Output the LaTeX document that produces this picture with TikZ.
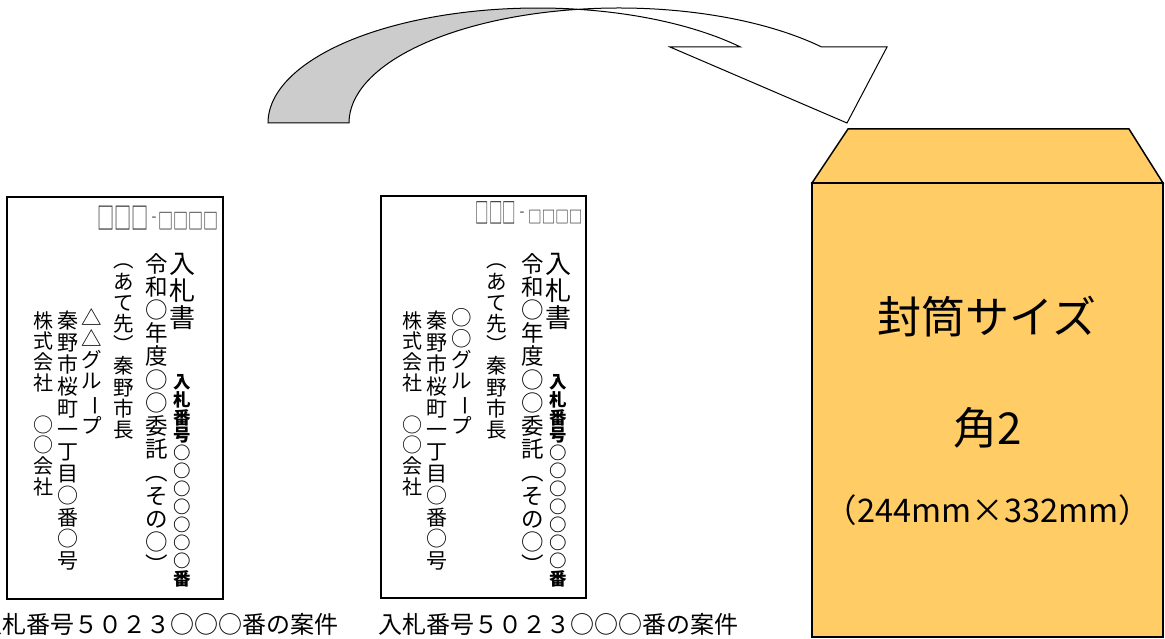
\documentclass[tikz,border=0pt]{standalone}
\usepackage{graphicx}
\usepackage{fontspec}
\newfontfamily\jp{Noto Sans CJK JP}
\definecolor{envfill}{HTML}{FFCC66}
\definecolor{bandgray}{HTML}{CCCCCC}
% long vowel mark turned upright for vertical columns
\newcommand\tatebar{\rotatebox[origin=c]{-90}{ー}}

\begin{document}
\begin{tikzpicture}[x=1pt, y=-1pt,
  card/.style={draw, line width=1.8pt},
  tate/.style args={#1/#2}{anchor=north, inner sep=0pt, align=center,
    font=\jp\fontsize{#1}{#2}\selectfont},
  tateb/.style args={#1/#2}{tate=#1/#2,
    font=\jp\bfseries\fontsize{#1}{#2}\selectfont},
  zip/.style={inner sep=0pt, text=black!85, font=\jp\fontsize{#1}{#1}\selectfont},
  caption/.style={anchor=west, inner sep=0pt, font=\jp\fontsize{24}{24}\selectfont},
  envtext/.style={inner sep=0pt, font=\jp\fontsize{#1}{#1}\selectfont}]

\useasboundingbox (0,0) rectangle (1165,639);
\clip (0,0) rectangle (1165,639);

% curved arrow
\filldraw[fill=bandgray, line width=1pt] (268,123)
  arc[start angle=-180, end angle=-81.37, x radius=270, y radius=115]
  arc[start angle=-98.63, end angle=-180, x radius=270, y radius=115] -- cycle;
\filldraw[fill=white, line width=1pt] (578.5,9.3)
  arc[start angle=-98.63, end angle=-41.4, x radius=270, y radius=115]
  -- (887,47) -- (847,123) -- (670,47) -- (740.5,47)
  arc[start angle=-41.4, end angle=-81.37, x radius=270, y radius=115] -- cycle;

% left card
\draw[card] (7,197) rectangle (223,599);
\node[zip=30, xscale=0.57, anchor=east] (lzipa) at (149,218) {□□□};
\node[zip=14] (lzipd) at (154,219) {-};
\node[zip=22, xscale=0.68, anchor=west] (lzipb) at (158,221) {□□□□};

\node[tate=26/27]      (ltitle) at (182,253) {入\\札\\書};
\node[tateb=17.5/17.9] (lcol1)  at (182,374) {入\\札\\番\\号\\○\\○\\○\\○\\○\\○\\○\\番};
\node[tate=22.5/23.2]  (lcol2)  at (157,253) {令\\和\\○\\年\\度\\○\\○\\委\\託\\︵\\そ\\の\\○\\︶};
\node[tate=20.5/21.2]  (lcol3)  at (124,264) {︵\\あ\\て\\先\\︶\\秦\\野\\市\\長};
\node[tate=20.5/21.2]  (lcol4)  at (92,308)  {△\\△\\グ\\ル\\\tatebar\\プ};
\node[tate=21/21.8]    (lcol5)  at (68,311)  {秦\\野\\市\\桜\\町\\一\\丁\\目\\○\\番\\○\\号};
\node[tate=20/20.8]    (lcol6)  at (43,311)  {株\\式\\会\\社\\　\\○\\○\\会\\社};

% middle card
\draw[card] (381,196) rectangle (586,598);
\node[zip=28, xscale=0.48, anchor=east] (mzipa) at (516,213) {□□□};
\node[zip=14] (mzipd) at (522,214) {-};
\node[zip=17, xscale=0.8, anchor=west] (mzipb) at (528,217.5) {□□□□};

\node[tate=26/27]      (mtitle) at (558,253) {入\\札\\書};
\node[tateb=17.5/17.9] (mcol1)  at (558,374) {入\\札\\番\\号\\○\\○\\○\\○\\○\\○\\○\\番};
\node[tate=22.5/23.2]  (mcol2)  at (533,253) {令\\和\\○\\年\\度\\○\\○\\委\\託\\︵\\そ\\の\\○\\︶};
\node[tate=20.5/21.2]  (mcol3)  at (497,264) {︵\\あ\\て\\先\\︶\\秦\\野\\市\\長};
\node[tate=20.5/21.2]  (mcol4)  at (462,308) {○\\○\\グ\\ル\\\tatebar\\プ};
\node[tate=21/21.8]    (mcol5)  at (437,311) {秦\\野\\市\\桜\\町\\一\\丁\\目\\○\\番\\○\\号};
\node[tate=20/20.8]    (mcol6)  at (412,311) {株\\式\\会\\社\\　\\○\\○\\会\\社};

% captions
\node[caption] (lcap) at (-22,624) {入札番号５０２３○○○番の案件};
\node[caption] (mcap) at (378,624) {入札番号５０２３○○○番の案件};

% envelope
\filldraw[fill=envfill, line width=1.5pt] (812,183) -- (848,129) -- (1129,129) -- (1163,183) -- cycle;
\filldraw[fill=envfill, line width=1.5pt] (812,183) rectangle (1163,637);
\node[envtext=44] (size) at (987,317) {封筒サイズ};
\node[envtext=44] (kaku) at (988,428) {角2};
\node[envtext=32.5] (mm) at (988,510) {（244mm×332mm）};

\end{tikzpicture}
\end{document}
